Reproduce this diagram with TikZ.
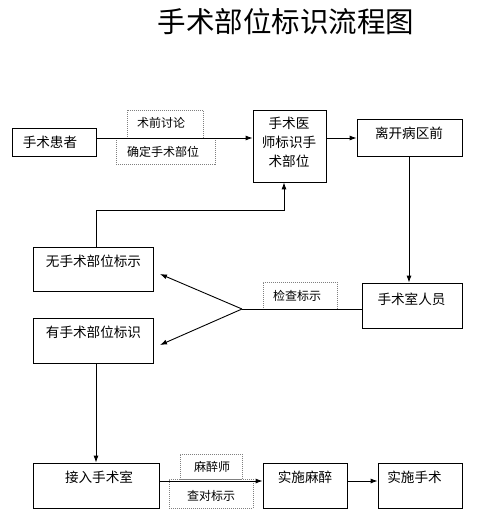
\documentclass[tikz,border=0pt]{standalone}
\usepackage{fontspec}
\setmainfont{Noto Sans CJK SC}
\usetikzlibrary{arrows.meta}
\begin{document}
\begin{tikzpicture}[x=1pt,y=-1pt,
  box/.style={draw=black,line width=0.8pt,inner sep=0pt},
  dbox/.style={draw=gray,line width=0.6pt,dash pattern=on 1pt off 1pt,inner sep=0pt},
  txt/.style={inner sep=0pt,font=\fontsize{13.6}{19}\selectfont},
  stxt/.style={inner sep=0pt,font=\fontsize{12}{14}\selectfont},
  arr/.style={line width=0.9pt,-{Latex[length=7pt,width=5pt]}},
  ln/.style={line width=0.9pt}]
\useasboundingbox (0,0) rectangle (499,512);
\node[inner sep=0pt,font=\fontsize{28.5}{32}\selectfont] (title) at (286,22) {手术部位标识流程图};

% boxes
\node[box,minimum width=84pt,minimum height=28pt] (patient) at (54,142) {};
\node[txt] (patientT) at (50,142) {手术患者};
\node[dbox,minimum width=76pt,minimum height=28pt] (d1) at (165,124) {};
\node[stxt] (d1T) at (161,123) {术前讨论};
\node[dbox,minimum width=99pt,minimum height=26pt] (d2) at (165.5,151) {};
\node[stxt] (d2T) at (163,152) {确定手术部位};
\node[box,minimum width=73pt,minimum height=72pt] (doc) at (289.5,146) {};
\node[txt,align=center] (docT) at (289,142) {手术医\\师标识手\\术部位};
\node[box,minimum width=105pt,minimum height=37pt] (leave) at (409.5,137.5) {};
\node[txt] (leaveT) at (409,133) {离开病区前};
\node[box,minimum width=100pt,minimum height=45pt] (staff) at (412,305.5) {};
\node[txt] (staffT) at (411.5,299) {手术室人员};
\node[dbox,minimum width=74pt,minimum height=27pt] (d3) at (300,295.5) {};
\node[stxt] (d3T) at (297,296) {检查标示};
\node[box,minimum width=120pt,minimum height=44pt] (no) at (93,269) {};
\node[txt] (noT) at (93.5,261) {无手术部位标示};
\node[box,minimum width=120pt,minimum height=45pt] (yes) at (93,340.5) {};
\node[txt] (yesT) at (93.5,332) {有手术部位标识};
\node[box,minimum width=126pt,minimum height=45pt] (enter) at (96,485.5) {};
\node[txt] (enterT) at (99,477) {接入手术室};
\node[dbox,minimum width=62pt,minimum height=25pt] (d4) at (211,466.5) {};
\node[stxt] (d4T) at (212,467) {麻醉师};
\node[dbox,minimum width=84pt,minimum height=29pt] (d5) at (211,493.5) {};
\node[stxt] (d5T) at (211,496) {查对标示};
\node[box,minimum width=84pt,minimum height=45pt] (anes) at (305,485.5) {};
\node[txt] (anesT) at (305,477) {实施麻醉};
\node[box,minimum width=84pt,minimum height=45pt] (surg) at (420,485.5) {};
\node[txt] (surgT) at (414.5,477) {实施手术};

% connectors
\draw[arr] (patient.east |- 0,138) -- (doc.west |- 0,138);
\draw[arr] (doc.east |- 0,138) -- (leave.west |- 0,138);
\draw[arr] (leave.south -| 409,0) -- (staff.north -| 409,0);
\coordinate (fork) at (242,309);
\draw[ln] (staff.west |- 0,309) -- (fork);
\draw[arr] (fork) -- (160,274);
\draw[arr] (fork) -- (160,345);
\draw[arr] (no.north -| 96,0) -- (96,210) -- (284,210) -- (doc.south -| 284,0);
\draw[arr] (yes.south -| 96,0) -- (enter.north -| 96,0);
\draw[arr] (enter.east |- 0,481) -- (anes.west |- 0,481);
\draw[arr] (anes.east |- 0,481) -- (surg.west |- 0,481);
\end{tikzpicture}
\end{document}
